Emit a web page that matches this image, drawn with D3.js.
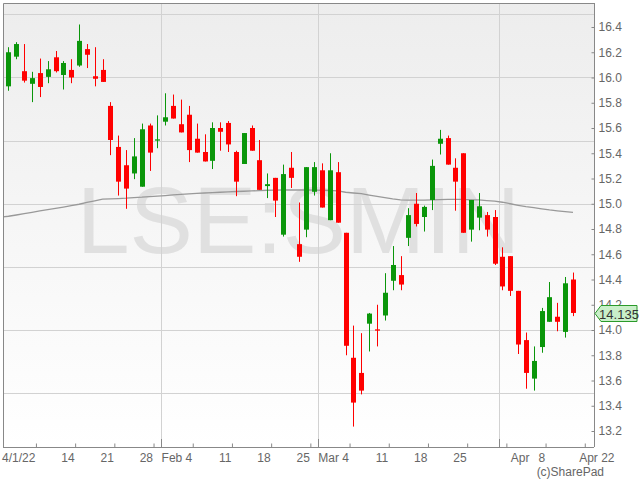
<!DOCTYPE html>
<html>
<head>
<meta charset="utf-8">
<script src="https://cdn.jsdelivr.net/npm/d3@7"></script>
<style>
  body { margin: 0; background: #fff; }
  svg { display: block; font-family: "Liberation Sans", Arial, sans-serif; }
</style>
</head>
<body>
<svg id="chart" width="640" height="480"></svg>
<script>
// trading days shown (LSE:SMIN, daily)
const dates = [
  "2022-01-04","2022-01-05","2022-01-06","2022-01-07","2022-01-10","2022-01-11","2022-01-12","2022-01-13","2022-01-14",
  "2022-01-17","2022-01-18","2022-01-19","2022-01-20","2022-01-21","2022-01-24","2022-01-25","2022-01-26","2022-01-27",
  "2022-01-28","2022-01-31","2022-02-01","2022-02-02","2022-02-03","2022-02-04","2022-02-07","2022-02-08","2022-02-09",
  "2022-02-10","2022-02-11","2022-02-14","2022-02-15","2022-02-16","2022-02-17","2022-02-18","2022-02-21","2022-02-22",
  "2022-02-23","2022-02-24","2022-02-25","2022-02-28","2022-03-01","2022-03-02","2022-03-03","2022-03-04","2022-03-07",
  "2022-03-08","2022-03-09","2022-03-10","2022-03-11","2022-03-14","2022-03-15","2022-03-16","2022-03-17","2022-03-18",
  "2022-03-21","2022-03-22","2022-03-23","2022-03-24","2022-03-25","2022-03-28","2022-03-29","2022-03-30","2022-03-31",
  "2022-04-01","2022-04-04","2022-04-05","2022-04-06","2022-04-07","2022-04-08","2022-04-11","2022-04-12","2022-04-13",
  "2022-04-14"
];
// empty days the axis runs on into
const futureDates = ["2022-04-15","2022-04-18","2022-04-19","2022-04-20","2022-04-21","2022-04-22"];

const open = [15.93,16.165,16.05,15.95,16.035,16.005,16.16,16.02,16.06,16.095,16.225,16.01,16.06,15.775,15.45,15.305,15.24,15.135,15.62,15.5,
  15.65,15.775,15.63,15.705,15.515,15.41,15.34,15.6,15.64,15.41,15.315,15.6,15.345,15.14,15.205,14.755,15.285,14.68,14.795,15.095,
  15.265,14.87,15.25,14.77,13.78,13.66,14.05,14.005,14.115,14.39,14.435,14.73,15.0,14.895,15.03,15.475,15.52,15.285,15.4,14.795,
  14.89,14.91,14.895,14.58,14.585,14.31,13.92,13.615,13.865,14.065,14.105,13.985,14.4];
const high = [16.24,16.28,16.265,16.045,16.15,16.13,16.21,16.13,16.145,16.42,16.265,16.24,16.145,15.805,15.54,15.425,15.52,15.635,15.635,15.7,
  15.875,15.865,15.825,15.775,15.635,15.55,15.645,15.645,15.655,15.42,15.56,15.62,15.505,15.24,15.205,15.31,15.41,15.01,15.29,15.33,
  15.32,15.4,15.33,14.77,14.035,13.975,14.135,14.2,14.45,14.665,14.585,14.965,15.085,14.985,15.35,15.585,15.54,15.36,15.4,15.03,
  15.085,14.935,14.95,14.655,14.585,14.31,13.98,13.87,14.175,14.38,14.215,14.42,14.455];
const low = [15.895,16.145,15.96,15.805,15.845,15.955,16.04,15.905,15.955,16.085,16.075,15.93,15.965,15.385,15.065,14.96,15.195,15.135,15.26,15.44,
  15.62,15.675,15.565,15.33,15.405,15.335,15.275,15.42,15.41,15.06,15.315,15.42,15.11,15.045,14.895,14.74,15.125,14.54,14.735,15.065,
  14.97,14.87,14.85,13.8,13.235,13.49,13.83,13.87,14.075,14.315,14.315,14.665,14.82,14.78,14.95,15.39,15.31,14.945,14.77,14.7,
  14.79,14.74,14.515,14.315,14.27,13.81,13.535,13.52,13.82,14.065,13.99,13.94,14.11];
const close = [16.2,16.265,15.975,15.995,15.925,16.065,16.05,16.115,16.0,16.29,16.18,15.99,15.965,15.505,15.175,15.12,15.375,15.59,15.405,15.51,
  15.685,15.675,15.565,15.425,15.405,15.335,15.6,15.57,15.47,15.175,15.56,15.42,15.11,15.155,15.025,15.235,15.205,14.58,15.29,15.29,
  14.97,15.265,14.85,13.875,13.425,13.52,14.13,13.995,14.295,14.515,14.36,14.91,14.84,14.975,15.3,15.515,15.31,15.175,14.77,15.03,
  14.98,14.795,14.525,14.345,14.31,13.885,13.66,13.755,14.15,14.26,14.065,14.37,14.135];
// moving average, first value is the day before the first candle
const ma = [14.894,14.901,14.911,14.922,14.932,14.943,14.953,14.963,14.974,14.985,14.996,15.011,15.023,15.036,15.038,15.041,15.044,15.049,15.052,15.057,
  15.061,15.065,15.070,15.075,15.079,15.082,15.085,15.088,15.091,15.094,15.097,15.099,15.102,15.104,15.107,15.108,15.109,15.109,15.109,15.109,
  15.108,15.107,15.105,15.102,15.091,15.085,15.080,15.069,15.059,15.048,15.038,15.030,15.028,15.029,15.029,15.030,15.032,15.035,15.035,15.034,
  15.031,15.030,15.025,15.021,15.012,15.000,14.988,14.977,14.969,14.960,14.951,14.944,14.938,14.932];

// one label per week end tick (the Easter week has none)
const weekLabels = ["4/1/22","14","21","28","Feb 4","11","18","25","Mar 4","11","18","25","Apr","8","","Apr 22"];
const priceTicks = d3.range(13.2, 16.41, 0.2);
const gridPrices = [13.5, 14.0, 14.5, 15.0, 15.5, 16.0, 16.5];
const lastPrice = "14.135";
const symbol = "LSE:SMIN";

const svg = d3.select("#chart");
const pLeft = 3, pRight = 594, pTop = 3, pBottom = 447;

const x = d3.scaleLinear().domain([-0.7, 74.55]).range([pLeft, pRight - 1]);
const y = d3.scaleLinear().domain([13.2, 16.4]).range([431, 27]);

// background
const defs = svg.append("defs");
const grad = defs.append("linearGradient").attr("id", "bg").attr("x1", 0).attr("x2", 0).attr("y1", 0).attr("y2", 1);
grad.append("stop").attr("offset", "0%").attr("stop-color", "#ededed");
grad.append("stop").attr("offset", "100%").attr("stop-color", "#ffffff");
defs.append("clipPath").attr("id", "plot").append("rect")
  .attr("x", pLeft).attr("y", pTop).attr("width", pRight - pLeft).attr("height", pBottom - pTop);

svg.append("rect").attr("x", pLeft).attr("y", pTop).attr("width", pRight - pLeft).attr("height", pBottom - pTop)
  .attr("fill", "url(#bg)");

svg.append("text")
  .attr("x", (pLeft + pRight) / 2).attr("y", 253)
  .attr("text-anchor", "middle")
  .attr("font-size", 95)
  .attr("fill", "#e0e0e0")
  .text(symbol);

// axis days: traded days then the empty future ones
const parse = d3.timeParse("%Y-%m-%d");
const allDays = dates.concat(futureDates).map(parse);

const weekTicks = [], monthTicks = [];
allDays.forEach((d, i) => {
  const next = allDays[i + 1];
  if (!next || d3.timeMonday.floor(d).getTime() !== d3.timeMonday.floor(next).getTime()) weekTicks.push(i + 0.5);
  if (next && d.getMonth() !== next.getMonth()) monthTicks.push(i + 0.5);
});

// grid
const grid = svg.append("g").attr("stroke", "#d2d2d2").attr("stroke-width", 1);
grid.selectAll(".h").data(gridPrices).join("line")
  .attr("x1", pLeft).attr("x2", pRight)
  .attr("y1", d => Math.round(y(d)) + 0.5).attr("y2", d => Math.round(y(d)) + 0.5);
grid.selectAll(".v").data(monthTicks).join("line")
  .attr("x1", d => Math.round(x(d)) + 0.5).attr("x2", d => Math.round(x(d)) + 0.5)
  .attr("y1", pTop).attr("y2", pBottom);

// moving average
svg.append("path")
  .datum(ma)
  .attr("clip-path", "url(#plot)")
  .attr("fill", "none")
  .attr("stroke", "#999")
  .attr("stroke-width", 1.3)
  .attr("d", d3.line().x((d, i) => x(i - 1)).y(d => y(d)));

// candles
const candles = svg.append("g").selectAll("g").data(dates).join("g")
  .attr("fill", (d, i) => close[i] >= open[i] ? "#0a960a" : "#ff0000")
  .attr("stroke", "none");
candles.append("rect")
  .attr("x", (d, i) => Math.round(x(i)))
  .attr("width", 1)
  .attr("y", (d, i) => y(high[i]))
  .attr("height", (d, i) => y(low[i]) - y(high[i]));
candles.append("rect")
  .attr("x", (d, i) => Math.round(x(i)) - 2)
  .attr("width", 5)
  .attr("y", (d, i) => y(Math.max(open[i], close[i])))
  .attr("height", (d, i) => Math.max(1.2, Math.abs(y(open[i]) - y(close[i]))));

// frame
svg.append("path")
  .attr("d", `M${pLeft + 0.5},${pBottom}V${pTop + 0.5}H${pRight}`)
  .attr("fill", "none").attr("stroke", "#888");

// right axis
const yAxis = svg.append("g")
  .attr("transform", `translate(${pRight + 0.5},0)`)
  .call(d3.axisRight(y).tickValues(priceTicks).tickFormat(d3.format(".1f"))
    .tickSizeInner(-3).tickSizeOuter(0).tickPadding(4));
yAxis.select(".domain").attr("stroke", "#888").attr("d", `M0,${pTop}V${pBottom}`);
yAxis.selectAll("line").attr("stroke", "#888");
yAxis.selectAll("text").attr("font-size", 12).attr("fill", "#666").attr("font-family", null);

// bottom axis
const xAxis = svg.append("g")
  .attr("transform", `translate(0,${pBottom + 0.5})`)
  .call(d3.axisBottom(x).tickValues(weekTicks).tickFormat((d, i) => weekLabels[i])
    .tickSizeInner(-4).tickSizeOuter(0).tickPadding(6));
xAxis.select(".domain").attr("stroke", "#888").attr("d", `M${pLeft},0H${pRight}`);
xAxis.selectAll("line").attr("stroke", "#888");
xAxis.selectAll(".tick").filter(d => x(d) > pRight).select("line").remove();
xAxis.selectAll("text")
  .attr("font-size", 12).attr("fill", "#666").attr("font-family", null)
  .attr("text-anchor", (d, i) => weekLabels[i] === "Apr" ? "start" : "end")
  .attr("x", function(d, i) {
    if (weekLabels[i] === "Apr") return 4;
    const px = x(d);
    return px > 614 ? 614 - px : -1;
  });
svg.append("g").selectAll("line").data(monthTicks).join("line")
  .attr("x1", d => Math.round(x(d)) + 0.5).attr("x2", d => Math.round(x(d)) + 0.5)
  .attr("y1", pBottom - 8).attr("y2", pBottom)
  .attr("stroke", "#888");

// last price flag
const ly = Math.round(y(+lastPrice)) + 0.5;
svg.append("path")
  .attr("d", `M${pRight + 1},${ly}L${pRight + 7},${ly - 8}H637V${ly + 8}H${pRight + 7}Z`)
  .attr("fill", "#c9efc9").attr("stroke", "#2a9a2a").attr("stroke-width", 1);
svg.append("text")
  .attr("x", 619).attr("y", ly + 5)
  .attr("text-anchor", "middle")
  .attr("font-size", 13)
  .attr("fill", "#333")
  .text(lastPrice);

svg.append("text")
  .attr("x", 604).attr("y", 476)
  .attr("text-anchor", "end")
  .attr("font-size", 12)
  .attr("fill", "#666")
  .text("(c)SharePad");
</script>
</body>
</html>
